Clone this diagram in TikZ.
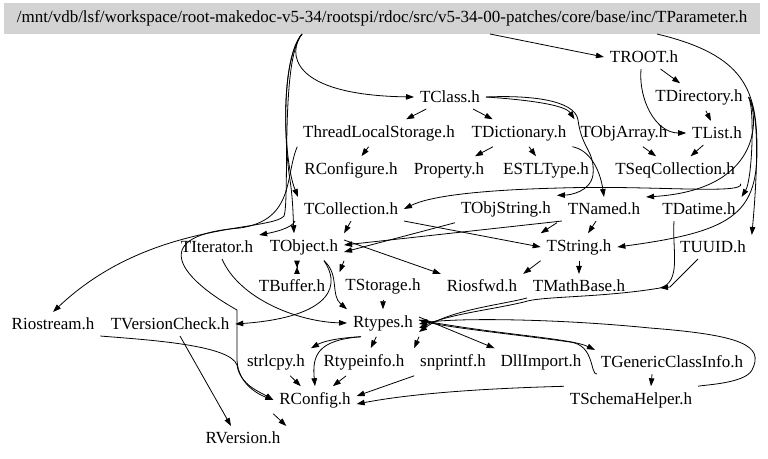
\documentclass[tikz,border=0pt]{standalone}
\usepackage{fontspec}
\setmainfont{Liberation Serif}
\usetikzlibrary{arrows.meta}
\definecolor{hdrgray}{HTML}{D3D3D3}
\begin{document}
\begin{tikzpicture}[x=1pt, y=-1pt,
  every node/.style = {inner sep=3pt, outer sep=3pt, font=\fontsize{17}{20}\selectfont},
  hdr/.style = {fill=hdrgray, minimum width=756, minimum height=31, outer sep=0pt},
  dep/.style = {line width=0.8pt, -{Triangle[length=8pt,width=5.5pt]}},
  bow/.style = {line width=0.8pt, {Triangle[length=7pt,width=5.5pt,reversed]}-{Triangle[length=7pt,width=5.5pt,reversed]}}
  ]
  \useasboundingbox (0,0) rectangle (768,458);
  % header
  \node[hdr] (param) at (382,18.5) {/mnt/vdb/lsf/workspace/root-makedoc-v5-34/rootspi/rdoc/src/v5-34-00-patches/core/base/inc/TParameter.h};
  % included files
  \node (troot) at (644,57) {TROOT.h};
  \node (tclass) at (450,97) {TClass.h};
  \node (tdir) at (699,97) {TDirectory.h};
  \node (tls) at (379,133) {ThreadLocalStorage.h};
  \node (tdict) at (519,133) {TDictionary.h};
  \node (tobjarr) at (624,133) {TObjArray.h};
  \node (tlist) at (717,133) {TList.h};
  \node (rconfigure) at (351,170) {RConfigure.h};
  \node (property) at (449,170) {Property.h};
  \node (estl) at (546,170) {ESTLType.h};
  \node (tseqcoll) at (675,170) {TSeqCollection.h};
  \node (tcoll) at (351,209) {TCollection.h};
  \node (tobjstr) at (506,209) {TObjString.h};
  \node (tnamed) at (604,209) {TNamed.h};
  \node (tdatime) at (699,209) {TDatime.h};
  \node (titer) at (217,247) {TIterator.h};
  \node (tobject) at (304,247) {TObject.h};
  \node (tstring) at (579,247) {TString.h};
  \node (tuuid) at (713,247) {TUUID.h};
  \node (tbuffer) at (292,286) {TBuffer.h};
  \node (tstorage) at (383,286) {TStorage.h};
  \node (riosfwd) at (482,286) {Riosfwd.h};
  \node (tmath) at (579,286) {TMathBase.h};
  \node (riostream) at (53,324) {Riostream.h};
  \node (tvcheck) at (170,324) {TVersionCheck.h};
  \node (rtypes) at (383,323) {Rtypes.h};
  \node (strlcpy) at (276,362) {strlcpy.h};
  \node (rtypeinfo) at (364,362) {Rtypeinfo.h};
  \node (snprintf) at (453,362) {snprintf.h};
  \node (dllimport) at (541,362) {DllImport.h};
  \node (tgci) at (672,362) {TGenericClassInfo.h};
  \node (rconfig) at (315,400) {RConfig.h};
  \node (tschema) at (631,400) {TSchemaHelper.h};
  \node (rversion) at (243,438) {RVersion.h};

  % from the header
  \draw[dep] ([xshift=108]param.south) -- (troot.west);
  \draw[dep] ([xshift=-80]param.south) .. controls (288,52) and (288,95) .. (tclass.west);
  \draw[dep] ([xshift=-80]param.south) .. controls (280,60) and (285,150) .. (290,180) .. controls (293,200) and (293,215) .. ([xshift=-10]tobject.north);
  \draw[dep] ([xshift=-80]param.south) .. controls (280,60) and (283,160) .. (tcoll.north west);
  \draw[dep] ([xshift=-80]param.south) .. controls (280,60) and (290,200) .. (284,216) .. controls (270,232) and (150,220) .. (riostream.north);
  \draw[dep] ([xshift=275]param.south) .. controls (745,55) and (757,90) .. (757,150) .. controls (757,215) and (730,232) .. (tstring.east);
  % TROOT, TDirectory, TList
  \draw[dep] (troot) -- (tdir);
  \draw[dep] ([xshift=-3]troot.south) to[out=-95,in=180] (tlist.west);
  \draw[dep] (tdir) -- (tlist);
  \draw[dep] (tdir.east) .. controls (762,115) and (755,200) .. (tuuid.north east);
  \draw[dep] (tdir.east) .. controls (755,110) and (752,180) .. (tdatime.north east);
  \draw[dep] (tdir.east) .. controls (760,120) and (760,190) .. (tnamed.north east);
  \draw[dep] (tobjarr) -- (tseqcoll);
  \draw[dep] (tlist) -- (tseqcoll);
  \draw[dep] (tseqcoll.south east) .. controls (745,195) and (650,185) .. (560,188) .. controls (480,190) and (430,196) .. (tcoll.east);
  % TClass
  \draw[dep] (tclass) -- (tls);
  \draw[dep] (tclass) -- (tdict);
  \draw[dep] (tclass.east) .. controls (530,100) and (565,105) .. (tobjarr.north west);
  \draw[dep] (tclass.east) .. controls (530,95) and (575,100) .. (578,120) .. controls (582,150) and (595,150) .. (593,175) .. controls (590,192) and (570,195) .. (tobjstr.north east);
  \draw[dep] (tdict.south east) .. controls (590,150) and (600,170) .. (tnamed.north);
  \draw[dep] (tdict) -- (property);
  \draw[dep] (tdict) -- (estl);
  \draw[dep] (tls) -- (rconfigure);
  \draw[dep] (tls.south west) .. controls (285,175) and (295,220) .. (240,228) .. controls (150,235) and (175,275) .. (237,310) -- (237,360) .. controls (238,385) and (260,395) .. (rconfig.west);
  % TCollection, TObjString, TNamed
  \draw[dep] ([xshift=-3]tcoll.south west) .. controls (292,228) and (275,232) .. (titer.north east);
  \draw[dep] (tcoll.south) -- (tobject.north east);
  \draw[dep] (tcoll.south east) -- (tstring.west);
  \draw[dep] (tobjstr.south west) -- ([yshift=-5]tobject.east);
  \draw[dep] (tobjstr.south east) -- (tstring.north west);
  \draw[dep] (tnamed.south west) -- ([yshift=2]tobject.east);
  \draw[dep] (tnamed) -- (tstring);
  % TObject
  \draw[bow] ([xshift=-7]tobject.south) -- ([xshift=5]tbuffer.north);
  \draw[dep] (tobject.south east) -- (tstorage.north west);
  \draw[dep] ([yshift=7]tobject.east) -- (riosfwd.north west);
  \draw[dep] ([xshift=20]tobject.south) .. controls (340,275) and (330,295) .. (rtypes.north west);
  \draw[dep] ([xshift=20]tobject.south) .. controls (345,292) and (320,318) .. (tvcheck.east);
  \draw[dep] ([xshift=5]titer.south) .. controls (240,300) and (300,322) .. (rtypes.west);
  \draw[dep] (tstorage) -- (rtypes);
  % TString and friends
  \draw[dep] (tstring) -- (tmath);
  \draw[dep] (tstring.south west) -- (riosfwd.north east);
  \draw[dep] (tmath.south west) .. controls (500,305) and (450,310) .. ([yshift=-9]rtypes.east);
  \draw[dep] ([xshift=-25]tdatime.south) .. controls (672,250) and (682,282) .. (660,288) .. controls (600,298) and (540,296) .. (524,302) .. controls (490,310) and (450,314) .. ([yshift=-5]rtypes.east);
  \draw[dep] ([xshift=-15]tuuid.south) -- (670,287) -- (660,288);
  % Rtypes
  \draw[dep] ([xshift=-22]rtypes.south) .. controls (335,338) and (322,342) .. (strlcpy.north east);
  \draw[dep] ([xshift=-22]rtypes.south) .. controls (318,340) and (312,355) .. (rconfig.north);
  \draw[dep] (rtypes) -- (rtypeinfo);
  \draw[dep] (rtypes.south east) -- (snprintf.north west);
  \draw[dep] ([yshift=6]rtypes.east) -- (dllimport.north west);
  \draw[dep] ([yshift=3]rtypes.east) .. controls (500,335) and (570,338) .. (tgci.north west);
  \draw[dep] ([xshift=2]tgci.south west) .. controls (590,375) and (595,345) .. (570,342) .. controls (520,335) and (450,328) .. ([yshift=3]rtypes.east);
  \draw[dep] ([xshift=-20]tgci.south) -- ([xshift=20]tschema.north);
  \draw[dep] (tschema.north east) .. controls (700,385) and (745,384) .. (752,370) .. controls (765,345) and (740,335) .. (650,328) .. controls (550,318) and (450,318) .. ([yshift=-1]rtypes.east);
  \draw[dep] (tschema.north west) .. controls (500,388) and (420,392) .. ([yshift=-4]rconfig.east);
  \draw[dep] (snprintf.south west) -- ([yshift=4]rconfig.east);
  \draw[dep] (strlcpy) -- (rconfig);
  \draw[dep] (rtypeinfo) -- (rconfig);
  \draw[dep] (riostream.south east) .. controls (150,340) and (230,345) .. (237,365) .. controls (240,385) and (260,392) .. (rconfig.west);
  % RVersion
  \draw[dep] ([xshift=10]tvcheck.south) -- ([xshift=-12]rversion.north);
  \draw[dep] (rconfig.south west) -- (rversion.north east);
\end{tikzpicture}
\end{document}
